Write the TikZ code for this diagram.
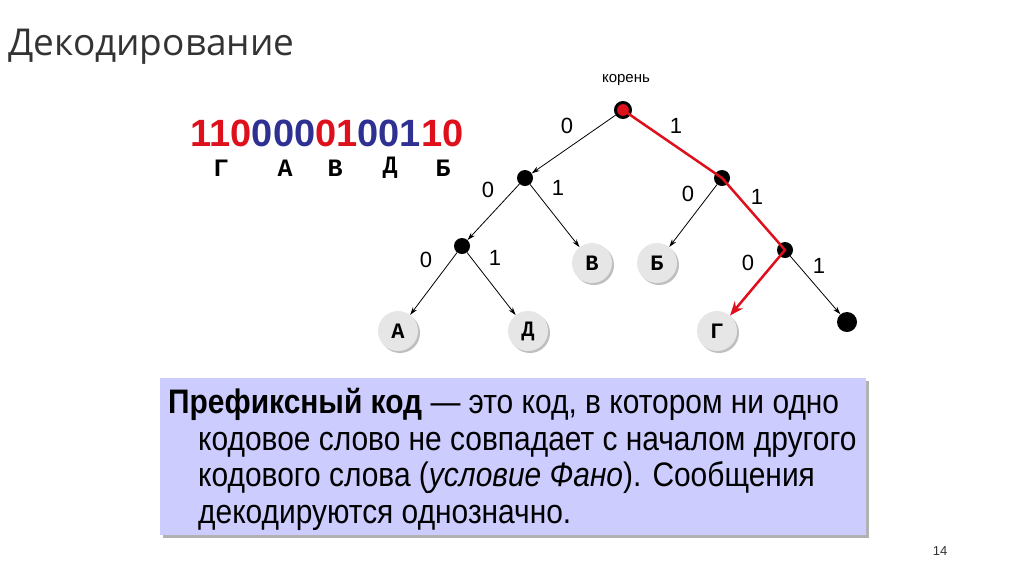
\documentclass[tikz,border=0pt]{standalone}
\usepackage{fontspec}
\setmainfont{Liberation Sans}
\newfontfamily\titlefont{Open Sans}
\newfontfamily\letterfont{Liberation Mono}
\newfontfamily\narrowfont[FakeStretch=0.88]{Liberation Sans}
\usetikzlibrary{shadows,arrows.meta}

\definecolor{codered}{RGB}{222,16,28}
\definecolor{codeblue}{RGB}{46,49,146}
\definecolor{boxfill}{RGB}{204,204,255}
\definecolor{leaffill}{RGB}{230,230,230}

\begin{document}
\begin{tikzpicture}[x=1pt, y=-1pt, >={Stealth[length=8pt, width=5pt]},
    inner/.style={circle, fill=black, inner sep=0pt, minimum size=16pt},
    leaf/.style={circle, fill=leaffill, inner sep=0pt, minimum size=40pt,
        font=\letterfont\bfseries\fontsize{22}{22}\selectfont,
        drop shadow={shadow xshift=2pt, shadow yshift=-2pt, opacity=0.25, fill=black}},
    edge/.style={->, line width=0.8pt},
    redpath/.style={-{Stealth[length=14pt, width=11pt]}, codered, line width=2.5pt},
    bit/.style={font=\fontsize{22}{22}\selectfont}]
    \useasboundingbox (0,0) rectangle (1024,574);

    \node[anchor=base west, text=black!80, font=\titlefont\fontsize{37}{37}\selectfont]
        (title) at (5,55) {Декодирование};

    \node[font=\bfseries\fontsize{38}{38}\selectfont] (code) at (327,133)
        {\textcolor{codered}{110}\textcolor{codeblue}{000}\textcolor{codered}{01}\textcolor{codeblue}{001}\textcolor{codered}{10}};
    \foreach \x/\c [count=\i] in {221/Г, 285/А, 335/В, 390/Д, 443/Б} {
        \node[font=\letterfont\bfseries\fontsize{25}{25}\selectfont] (sym\i) at (\x,168) {\c};
    }

    \node[font=\fontsize{15}{15}\selectfont] (rootlabel) at (626,80) {корень};

    \node[circle, draw=black, line width=3pt, fill=codered, inner sep=0pt, minimum size=15pt] (root) at (623,110) {};
    \node[inner] (l1) at (525,178) {};
    \node[inner] (r1) at (722,178) {};
    \node[inner] (l2) at (462,246) {};
    \node[inner] (r2) at (785,250) {};
    \node[inner, minimum size=20pt] (e) at (847,322) {};
    \node[leaf] (v) at (592,263) {В};
    \node[leaf] (b) at (657,263) {Б};
    \node[leaf] (a) at (398,331) {А};
    \node[leaf] (d) at (528,331) {Д};
    \node[leaf] (g) at (717,331) {Г};

    \draw[edge] (root) -- (l1);
    \draw[edge] (l1) -- (l2);
    \draw[edge] (l1) -- (v);
    \draw[edge] (r1) -- (b);
    \draw[edge] (l2) -- (a);
    \draw[edge] (l2) -- (d);
    \draw[edge] (r2) -- (e);
    \draw[redpath] (root.center) -- (r1.center) -- (r2.center) -- (g);

    \foreach \t/\x/\y [count=\i] in {0/567/126, 1/676/126, 0/488/190, 1/558/188, 0/688/194,
        1/757/197, 0/426/260, 1/495/258, 0/748/263, 1/819/266} {
        \node[bit] (bit\i) at (\x,\y) {\t};
    }

    \node[anchor=north west, fill=boxfill, minimum width=706pt, minimum height=157pt,
        drop shadow={shadow xshift=3pt, shadow yshift=-3pt, opacity=0.3, fill=black}]
        (def) at (160,378) {};
    \node[anchor=north west, align=left, inner sep=0pt,
        font=\narrowfont\fontsize{34}{36.5}\selectfont] (deftext) at (168,388)
        {\textbf{Префиксный код} — это код, в котором ни одно\\
        \hspace*{30pt}кодовое слово не совпадает с началом другого\\
        \hspace*{30pt}кодового слова (\textit{условие Фано}). Сообщения\\
        \hspace*{30pt}декодируются однозначно.};

    \node[font=\fontsize{13}{13}\selectfont, text=black!80] (page) at (940,551) {14};
\end{tikzpicture}
\end{document}
